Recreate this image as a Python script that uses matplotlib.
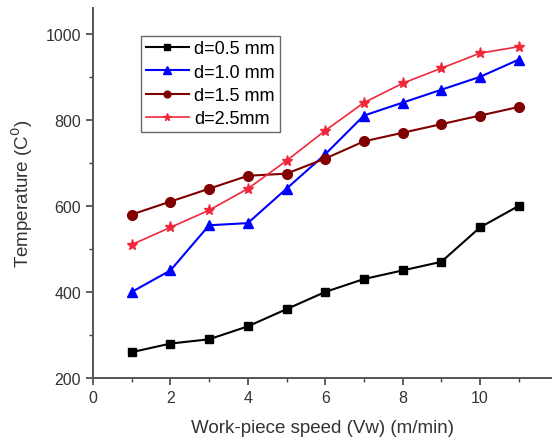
import matplotlib
matplotlib.use("Agg")
import matplotlib.pyplot as plt
from matplotlib.ticker import MultipleLocator

plt.rcParams['font.family'] = ['Liberation Sans', 'DejaVu Sans']

# work-piece speed (m/min)
speed = [1, 2, 3, 4, 5, 6, 7, 8, 9, 10, 11]
# temperature for each depth of cut
t_05 = [260, 280, 290, 320, 360, 400, 430, 450, 470, 550, 600]
t_10 = [400, 450, 555, 560, 640, 720, 810, 840, 870, 900, 940]
t_15 = [580, 610, 640, 670, 675, 710, 750, 770, 790, 810, 830]
t_25 = [510, 550, 590, 640, 705, 775, 840, 885, 920, 955, 970]
labels = ["d=0.5 mm", "d=1.0 mm", "d=1.5 mm", "d=2.5mm"]

fig = plt.figure(figsize=(5.52, 4.39), dpi=100)
ax = fig.add_axes([0.1685, 0.1367, 0.8315, 0.8428])

ax.plot(speed, t_05, color="black", marker="s", markersize=6, lw=1.5, label=labels[0])
ax.plot(speed, t_10, color="#0000ff", marker="^", markersize=7.5, lw=1.5, label=labels[1])
ax.plot(speed, t_15, color="#800000", marker="o", markersize=7, lw=1.5, label=labels[2])
ax.plot(speed, t_25, color="#f0283a", marker="*", markersize=8, lw=1.2, label=labels[3])

ax.set_xlim(0, 11.86)
ax.set_ylim(200, 1060)
ax.xaxis.set_major_locator(MultipleLocator(2))
ax.xaxis.set_minor_locator(MultipleLocator(1))
ax.yaxis.set_major_locator(MultipleLocator(200))
ax.yaxis.set_minor_locator(MultipleLocator(100))

for s in ["top", "right"]:
    ax.spines[s].set_visible(False)
for s in ["left", "bottom"]:
    ax.spines[s].set_color("#555555")
    ax.spines[s].set_linewidth(1.4)

ax.tick_params(which="major", length=5, width=1.2, color="#444444", labelsize=11.5, labelcolor="#333333")
ax.tick_params(which="minor", length=3, width=1.0, color="#444444")

ax.set_xlabel("Work-piece speed (Vw) (m/min)", fontsize=13.5, color="#333333", labelpad=10)
ax.set_ylabel("Temperature (C$^0$)", fontsize=13.5, color="#333333", labelpad=8)

leg = ax.legend(loc="upper left", bbox_to_anchor=(0.105, 0.925), fontsize=13,
                frameon=True, fancybox=False, edgecolor="#444444",
                handlelength=2.4, handletextpad=0.3, labelspacing=0.35, borderpad=0.25,
                markerscale=0.7, borderaxespad=0)
leg.get_frame().set_linewidth(1.0)

fig.savefig("out.png", dpi=100)
